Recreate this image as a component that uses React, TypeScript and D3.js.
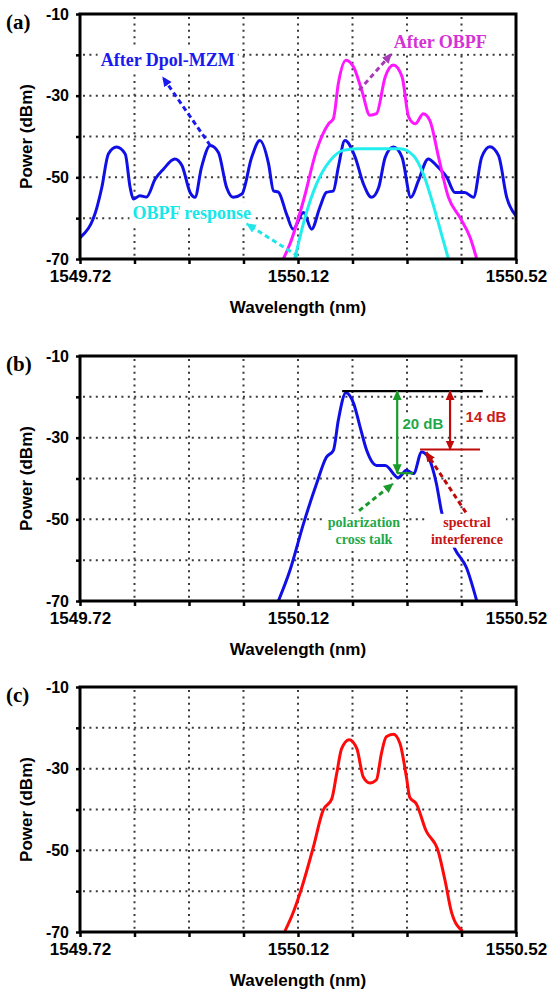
import { useEffect, useRef } from "react";
import * as d3 from "d3";

type Pt = [number, number]; // [wavelength nm, power dBm]

const WIDTH = 552;
const HEIGHT = 994;

const wlDomain: Pt = [1549.72, 1550.52];
const powDomain: Pt = [-70, -10];
const wlTicks = [1549.72, 1549.82, 1549.92, 1550.02, 1550.12, 1550.22, 1550.32, 1550.42, 1550.52];
const wlLabels = [1549.72, 1550.12, 1550.52];
const powTicks = [-10, -20, -30, -40, -50, -60, -70];
const powLabels = [-10, -30, -50, -70];
const gridWl = [1549.82, 1549.92, 1550.02, 1550.12, 1550.22, 1550.32, 1550.42];
const gridPow = [-20, -30, -40, -50, -60];

// (a) spectrum after the Dpol-MZM
const dpolMzm: Pt[] = [
  [1549.72, -64.8], [1549.751, -57.4], [1549.76, -52.5], [1549.772, -44.3], [1549.787, -42.6],
  [1549.803, -44.3], [1549.812, -52.5], [1549.818, -55.3], [1549.83, -54.5], [1549.842, -54.8],
  [1549.858, -50.4], [1549.873, -48.0], [1549.894, -45.5], [1549.907, -47.1], [1549.922, -53.7],
  [1549.931, -54.9], [1549.943, -47.5], [1549.959, -42.2], [1549.974, -43.9], [1549.989, -52.5],
  [1550.001, -54.9], [1550.017, -54.1], [1550.035, -45.1], [1550.05, -41.0], [1550.066, -46.7],
  [1550.075, -53.3], [1550.084, -53.6], [1550.099, -59.0], [1550.111, -62.7], [1550.13, -58.6],
  [1550.145, -62.7], [1550.16, -57.4], [1550.172, -53.7], [1550.185, -53.3], [1550.194, -47.5],
  [1550.206, -41.0], [1550.225, -45.1], [1550.24, -51.6], [1550.255, -54.9], [1550.268, -52.5],
  [1550.28, -45.1], [1550.295, -42.6], [1550.311, -45.1], [1550.327, -54.9], [1550.341, -50.8],
  [1550.359, -45.5], [1550.374, -47.1], [1550.393, -50.0], [1550.408, -53.7], [1550.426, -53.7],
  [1550.442, -54.9], [1550.457, -45.1], [1550.472, -42.5], [1550.488, -44.7], [1550.503, -54.9],
  [1550.52, -59.4],
];

// (a) spectrum after the OBPF
const afterObpf: Pt[] = [
  [1550.093, -70], [1550.105, -66.4], [1550.13, -55.7], [1550.154, -43.4], [1550.176, -36.9],
  [1550.185, -35.6], [1550.194, -27.0], [1550.208, -21.3], [1550.222, -23.0], [1550.237, -28.7],
  [1550.252, -34.8], [1550.264, -34.4], [1550.28, -25.4], [1550.295, -22.5], [1550.311, -25.4],
  [1550.323, -35.2], [1550.335, -36.9], [1550.35, -34.4], [1550.362, -36.1], [1550.378, -45.1],
  [1550.396, -54.9], [1550.417, -59.8], [1550.436, -64.8], [1550.448, -70],
];

// (a) OBPF response
const obpfResponse: Pt[] = [
  [1550.114, -70], [1550.133, -59.8], [1550.154, -51.6], [1550.179, -45.9], [1550.203, -43.4],
  [1550.228, -43.0], [1550.307, -43.0], [1550.332, -44.7], [1550.35, -49.2], [1550.368, -56.7],
  [1550.387, -65.7], [1550.396, -70],
];

// (b) spectrum
const crossTalk: Pt[] = [
  [1550.084, -70], [1550.105, -62.6], [1550.13, -51.1], [1550.154, -41.3], [1550.172, -34.8],
  [1550.185, -33.1], [1550.194, -25.7], [1550.208, -19.0], [1550.222, -21.6], [1550.234, -27.4],
  [1550.246, -33.1], [1550.264, -36.8], [1550.28, -36.8], [1550.304, -39.8], [1550.319, -38.0],
  [1550.332, -38.8], [1550.347, -33.5], [1550.359, -34.8], [1550.374, -41.3], [1550.383, -47.9],
  [1550.408, -57.3], [1550.429, -61.8], [1550.448, -70],
];

// (c) spectrum
const filtered: Pt[] = [
  [1550.096, -69.8], [1550.111, -65.3], [1550.127, -59.1], [1550.148, -49.3], [1550.166, -40.2],
  [1550.182, -37.4], [1550.191, -31.2], [1550.2, -25.1], [1550.214, -22.9], [1550.228, -25.1],
  [1550.24, -32.1], [1550.252, -33.5], [1550.264, -32.7], [1550.273, -26.3], [1550.282, -22.2],
  [1550.295, -21.6], [1550.307, -23.8], [1550.319, -32.1], [1550.325, -37.0], [1550.337, -38.6],
  [1550.355, -45.2], [1550.377, -50.1], [1550.39, -57.5], [1550.402, -65.3], [1550.422, -69.8],
];

interface Label {
  lines: string[];
  at: Pt;
  color: string;
  size: number;
  serif: boolean;
  bg?: boolean;
}
interface Arrow {
  from: Pt;
  to: Pt;
  color: string;
  dashed: boolean;
  both?: boolean;
}
interface Seg {
  from: Pt;
  to: Pt;
  color: string;
}
interface PanelDef {
  tag: string;
  top: number;
  series: { data: Pt[]; color: string }[];
  labels: Label[];
  arrows: Arrow[];
  segs: Seg[];
}

const panels: PanelDef[] = [
  {
    tag: "(a)",
    top: 14,
    series: [
      { data: dpolMzm, color: "#1010e6" },
      { data: obpfResponse, color: "#22eeee" },
      { data: afterObpf, color: "#ff18ff" },
    ],
    labels: [
      { lines: ["After Dpol-MZM"], at: [1549.881, -21.1], color: "#1a1aee", size: 18, serif: true, bg: true },
      { lines: ["After OBPF"], at: [1550.381, -16.9], color: "#d532d5", size: 18, serif: true, bg: true },
      { lines: ["OBPF response"], at: [1549.925, -58.7], color: "#15e8e8", size: 18, serif: true, bg: true },
    ],
    arrows: [
      { from: [1549.959, -42.2], to: [1549.872, -25.5], color: "#1a1aee", dashed: true },
      { from: [1550.232, -28.7], to: [1550.291, -19.8], color: "#a83ab8", dashed: true },
      { from: [1550.12, -69.3], to: [1550.026, -61.4], color: "#22e6e6", dashed: true },
    ],
    segs: [],
  },
  {
    tag: "(b)",
    top: 356,
    series: [{ data: crossTalk, color: "#1010e6" }],
    labels: [
      { lines: ["20 dB"], at: [1550.349, -26.5], color: "#1fa84a", size: 15, serif: false, bg: true },
      { lines: ["14 dB"], at: [1550.465, -24.8], color: "#cc1a1a", size: 15, serif: false },
      { lines: ["polarization", "cross talk"], at: [1550.241, -52.7], color: "#1fa84a", size: 14, serif: true, bg: true },
      { lines: ["spectral", "interference"], at: [1550.43, -52.7], color: "#c81414", size: 14, serif: true, bg: true },
    ],
    arrows: [
      { from: [1550.302, -18.6], to: [1550.302, -38.7], color: "#1a9a2a", dashed: false, both: true },
      { from: [1550.399, -18.6], to: [1550.399, -32.9], color: "#c00a0a", dashed: false, both: true },
      { from: [1550.232, -47.9], to: [1550.294, -41.3], color: "#1a9a2a", dashed: true },
      { from: [1550.428, -48.3], to: [1550.355, -33.6], color: "#c00a0a", dashed: true },
    ],
    segs: [
      { from: [1550.201, -18.6], to: [1550.459, -18.6], color: "#000" },
      { from: [1550.344, -32.9], to: [1550.454, -32.9], color: "#c00a0a" },
      { from: [1550.302, -38.7], to: [1550.331, -38.7], color: "#1a9a2a" },
    ],
  },
  {
    tag: "(c)",
    top: 687,
    series: [{ data: filtered, color: "#ff0a0a" }],
    labels: [],
    arrows: [],
    segs: [],
  },
];

const PLOT_LEFT = 80;
const PLOT_RIGHT = 516;
const PLOT_H = 245;
const SANS = "'Liberation Sans', Arial, sans-serif";
const SERIF = "'Liberation Serif', 'Times New Roman', serif";

const App = (): JSX.Element => {
  const svgRef = useRef<SVGSVGElement | null>(null);

  useEffect(() => {
    if (!svgRef.current) return;
    const svg = d3.select(svgRef.current);
    svg.selectAll("*").remove();
    const defs = svg.append("defs");

    const markerId = (color: string) => `arr-${color.replace("#", "")}`;
    const colors = new Set<string>();
    panels.forEach((p) => p.arrows.forEach((a) => colors.add(a.color)));
    colors.forEach((c) => {
      defs
        .append("marker")
        .attr("id", markerId(c))
        .attr("viewBox", "0 0 10 10")
        .attr("refX", 9)
        .attr("refY", 5)
        .attr("markerWidth", 10)
        .attr("markerHeight", 10)
        .attr("markerUnits", "userSpaceOnUse")
        .attr("orient", "auto-start-reverse")
        .append("path")
        .attr("d", "M0,0.5 L10,5 L0,9.5 z")
        .attr("fill", c);
    });

    const x = d3.scaleLinear().domain(wlDomain).range([PLOT_LEFT, PLOT_RIGHT]);

    panels.forEach((panel, i) => {
      const y = d3.scaleLinear().domain(powDomain).range([panel.top + PLOT_H, panel.top]);
      const g = svg.append("g");
      const bottom = panel.top + PLOT_H;

      defs
        .append("clipPath")
        .attr("id", `clip-${i}`)
        .append("rect")
        .attr("x", PLOT_LEFT)
        .attr("y", panel.top)
        .attr("width", PLOT_RIGHT - PLOT_LEFT)
        .attr("height", PLOT_H);

      // dotted grid
      const grid = g.append("g").attr("stroke", "#3a3a3a").attr("stroke-width", 2).attr("stroke-dasharray", "2,4.4");
      gridWl.forEach((w) => {
        grid.append("line").attr("x1", x(w)).attr("x2", x(w)).attr("y1", panel.top + 3).attr("y2", bottom);
      });
      gridPow.forEach((p) => {
        grid.append("line").attr("x1", PLOT_LEFT + 3).attr("x2", PLOT_RIGHT).attr("y1", y(p)).attr("y2", y(p));
      });

      // curves
      const line = d3
        .line<Pt>()
        .x((d) => x(d[0]))
        .y((d) => y(d[1]))
        .curve(d3.curveMonotoneX);
      const curves = g.append("g").attr("clip-path", `url(#clip-${i})`);
      panel.series.forEach((s) => {
        curves
          .append("path")
          .attr("d", line(s.data) || "")
          .attr("fill", "none")
          .attr("stroke", s.color)
          .attr("stroke-width", 3)
          .attr("stroke-linejoin", "round");
      });

      // labels with white backing
      panel.labels.forEach((lb) => {
        const lg = g.append("g");
        const lh = lb.size * 1.2;
        const cx = x(lb.at[0]);
        const cy = y(lb.at[1]);
        const y0 = cy - ((lb.lines.length - 1) * lh) / 2;
        const bgRect = lb.bg ? lg.append("rect").attr("fill", "#fff") : null;
        const texts = lg
          .selectAll("text")
          .data(lb.lines)
          .enter()
          .append("text")
          .attr("x", cx)
          .attr("y", (_d, k) => y0 + k * lh)
          .attr("dy", "0.35em")
          .attr("text-anchor", "middle")
          .attr("font-family", lb.serif ? SERIF : SANS)
          .attr("font-weight", "bold")
          .attr("font-size", lb.size)
          .attr("fill", lb.color)
          .text((d) => d);
        if (bgRect) {
          let minX = Infinity, minY = Infinity, maxX = -Infinity, maxY = -Infinity;
          texts.each(function () {
            const b = (this as SVGTextElement).getBBox();
            minX = Math.min(minX, b.x);
            minY = Math.min(minY, b.y);
            maxX = Math.max(maxX, b.x + b.width);
            maxY = Math.max(maxY, b.y + b.height);
          });
          bgRect
            .attr("x", minX - 3)
            .attr("y", minY - 1)
            .attr("width", maxX - minX + 6)
            .attr("height", maxY - minY + 2);
        }
      });

      // annotation segments
      panel.segs.forEach((s) => {
        g.append("line")
          .attr("x1", x(s.from[0]))
          .attr("y1", y(s.from[1]))
          .attr("x2", x(s.to[0]))
          .attr("y2", y(s.to[1]))
          .attr("stroke", s.color)
          .attr("stroke-width", 2.2);
      });

      // arrows
      panel.arrows.forEach((a) => {
        const ln = g
          .append("line")
          .attr("x1", x(a.from[0]))
          .attr("y1", y(a.from[1]))
          .attr("x2", x(a.to[0]))
          .attr("y2", y(a.to[1]))
          .attr("stroke", a.color)
          .attr("stroke-width", a.dashed ? 3 : 2.2)
          .attr("marker-end", `url(#${markerId(a.color)})`);
        if (a.dashed) ln.attr("stroke-dasharray", "5,3.5");
        if (a.both) ln.attr("marker-start", `url(#${markerId(a.color)})`);
      });

      // frame
      g.append("rect")
        .attr("x", PLOT_LEFT)
        .attr("y", panel.top)
        .attr("width", PLOT_RIGHT - PLOT_LEFT)
        .attr("height", PLOT_H)
        .attr("fill", "none")
        .attr("stroke", "#000")
        .attr("stroke-width", 3);

      // axes
      const xAxis = g
        .append("g")
        .attr("transform", `translate(0,${bottom})`)
        .call(
          d3
            .axisBottom(x)
            .tickValues(wlTicks)
            .tickSize(5)
            .tickSizeOuter(0)
            .tickPadding(6)
            .tickFormat((d) => (wlLabels.includes(+d) ? (+d).toFixed(2) : ""))
        );
      xAxis.select(".domain").remove();
      xAxis.selectAll("line").attr("stroke-width", 2.5);
      xAxis
        .selectAll("text")
        .attr("font-family", SANS)
        .attr("font-weight", "bold")
        .attr("font-size", 17)
        .attr("fill", "#000");

      const yAxis = g
        .append("g")
        .attr("transform", `translate(${PLOT_LEFT},0)`)
        .call(
          d3
            .axisLeft(y)
            .tickValues(powTicks)
            .tickSize(4)
            .tickSizeOuter(0)
            .tickPadding(7)
            .tickFormat((d) => (powLabels.includes(+d) ? String(d) : ""))
        );
      yAxis.select(".domain").remove();
      yAxis.selectAll("line").attr("stroke-width", 2.5);
      yAxis
        .selectAll("text")
        .attr("font-family", SANS)
        .attr("font-weight", "bold")
        .attr("font-size", 16)
        .attr("fill", "#000");

      // axis titles
      g.append("text")
        .attr("x", (PLOT_LEFT + PLOT_RIGHT) / 2)
        .attr("y", bottom + 54)
        .attr("text-anchor", "middle")
        .attr("font-family", SANS)
        .attr("font-weight", "bold")
        .attr("font-size", 17)
        .text("Wavelength (nm)");

      g.append("text")
        .attr("transform", `translate(32,${panel.top + PLOT_H / 2}) rotate(-90)`)
        .attr("text-anchor", "middle")
        .attr("font-family", SANS)
        .attr("font-weight", "bold")
        .attr("font-size", 17)
        .text("Power (dBm)");

      g.append("text")
        .attr("x", 6)
        .attr("y", panel.top + 15)
        .attr("font-family", SERIF)
        .attr("font-weight", "bold")
        .attr("font-size", 21)
        .text(panel.tag);
    });
  }, []);

  return (
    <svg
      ref={svgRef}
      width={WIDTH}
      height={HEIGHT}
      style={{ position: "absolute", left: 0, top: 0, background: "#fff", display: "block" }}
    />
  );
};

export default App;
